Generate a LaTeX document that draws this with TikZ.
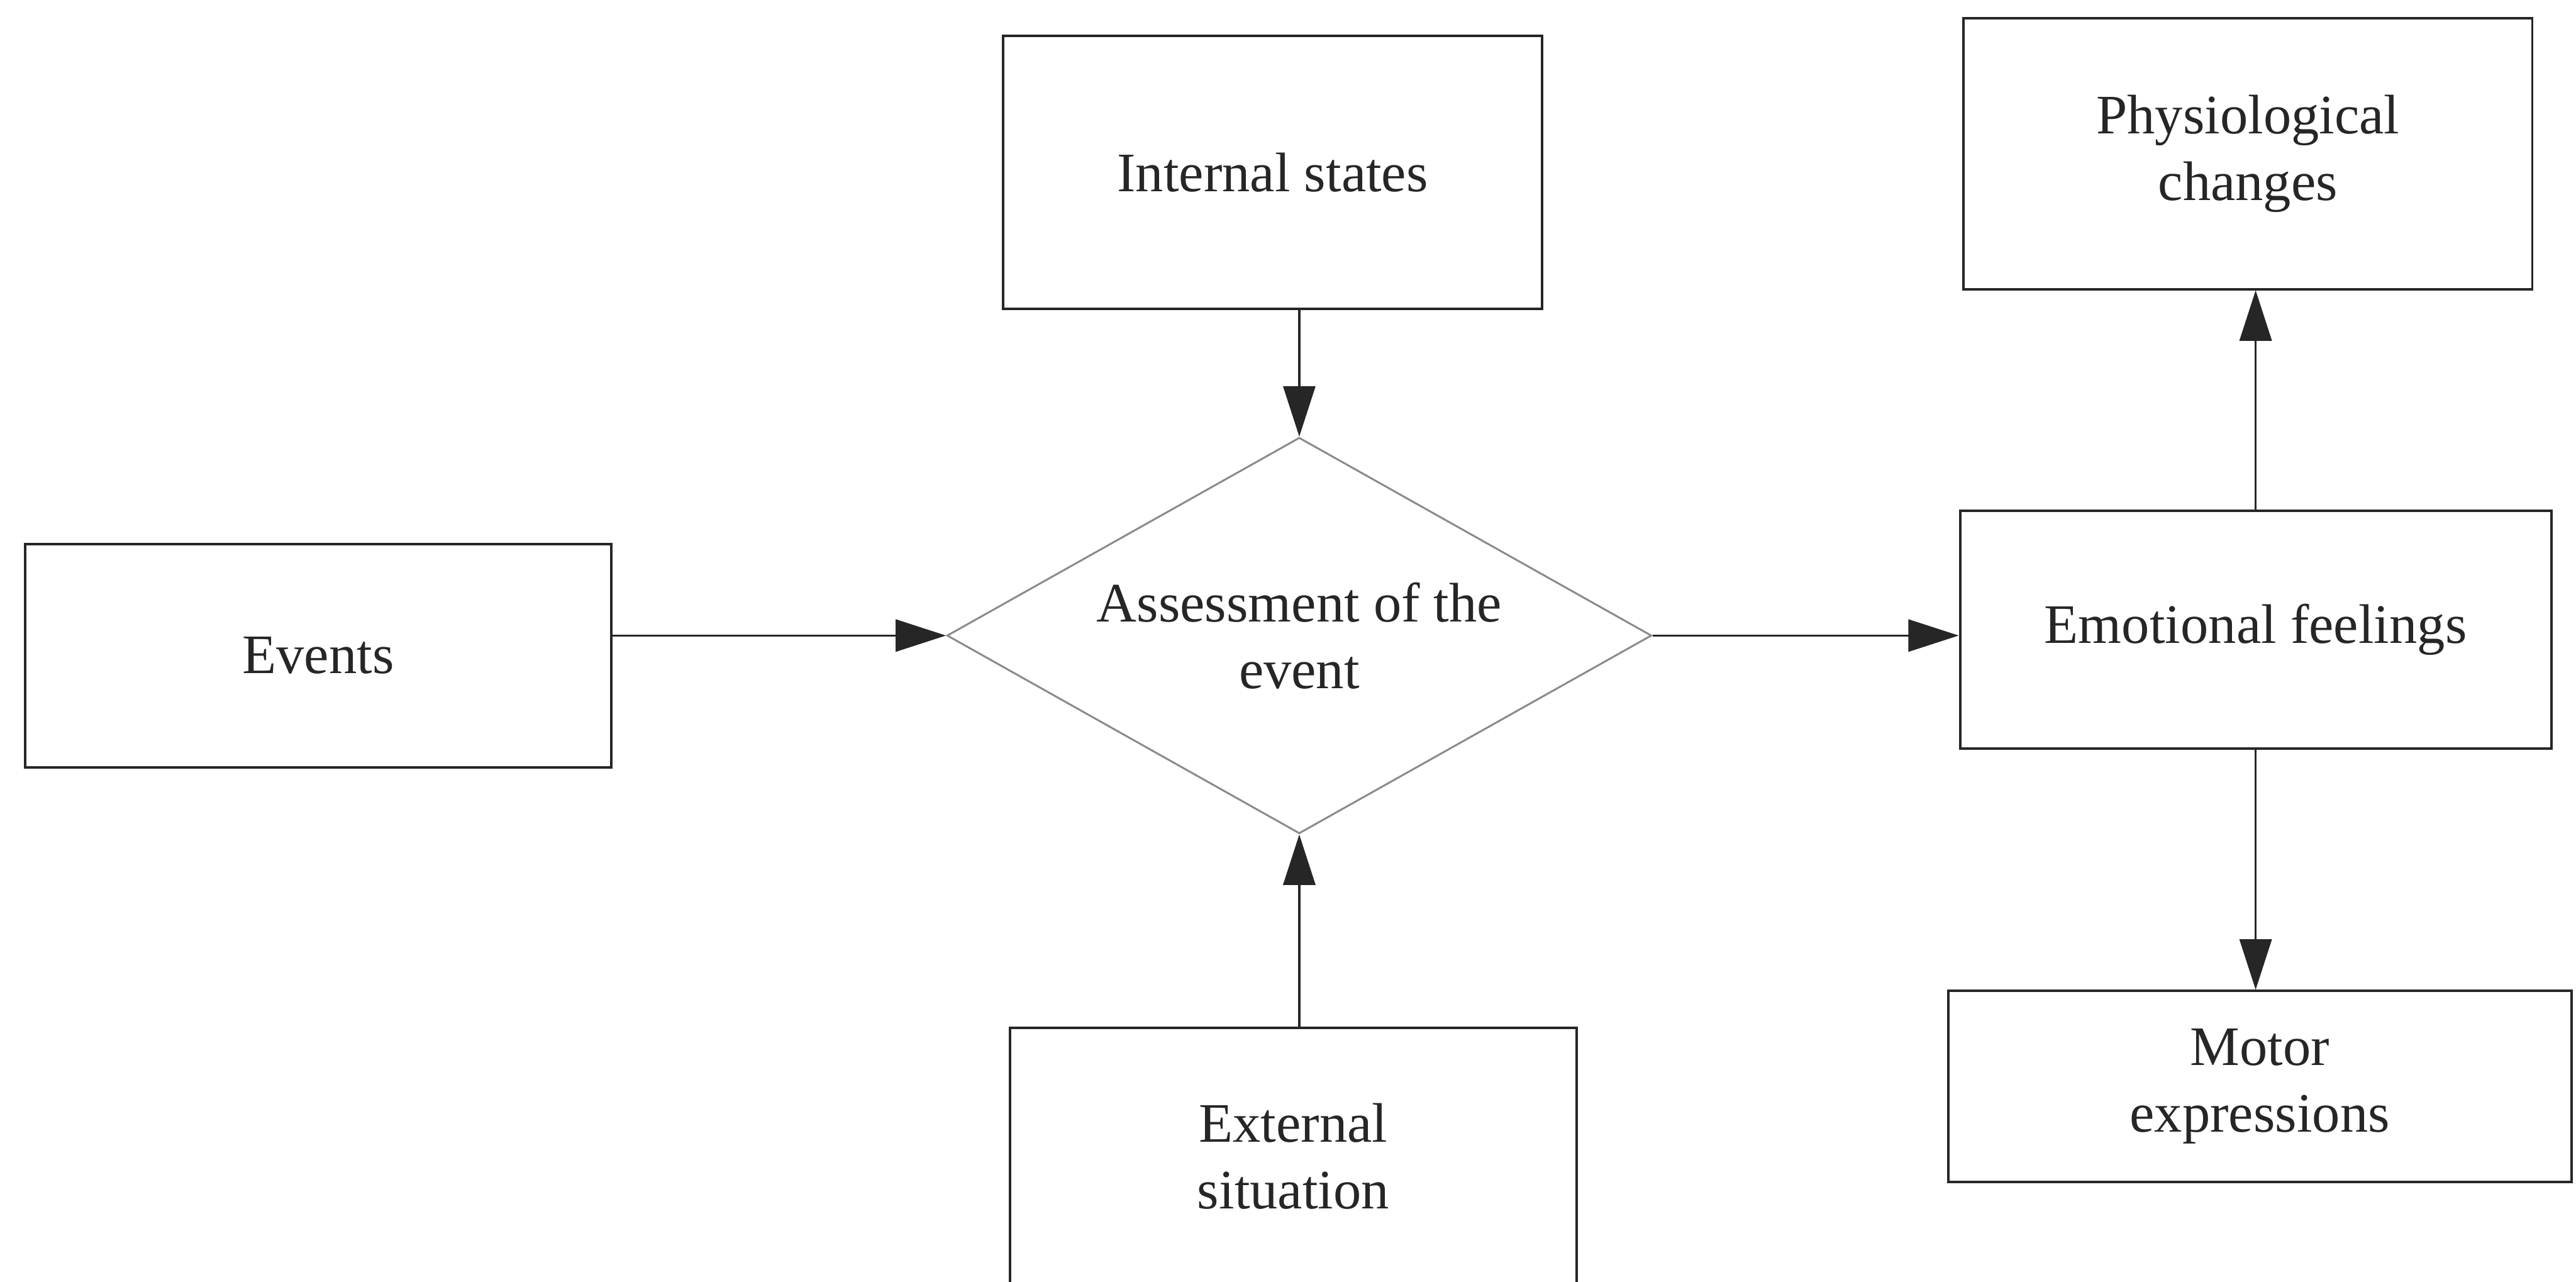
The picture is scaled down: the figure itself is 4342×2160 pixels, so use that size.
\documentclass[tikz,border=0pt]{standalone}
\usepackage{fontspec}
\setmainfont{Liberation Serif}
\usetikzlibrary{shapes.geometric,arrows.meta}
\definecolor{ink}{HTML}{262626}
\definecolor{rim}{HTML}{8A8A8A}
\begin{document}
\begin{tikzpicture}[x=0.01cm,y=-0.01cm,
  labeltext/.style={font=\fontsize{26.7pt}{31.9pt}\selectfont, text=ink, align=center},
  box/.style={rectangle, draw=ink, line width=1.2pt, inner sep=0pt, labeltext},
  decision/.style={diamond, aspect=1.78, draw=rim, line width=0.9pt, inner sep=0pt, labeltext},
  flow/.style={draw=ink, line width=1.1pt, -{Triangle[length=0.85cm,width=0.54cm]}}]
  % page
  \fill[white] (0,0) rectangle (4342,2160);
  \useasboundingbox (0,0) rectangle (4342,2160);
  \clip (0,0) rectangle (4342,2160);

  % boxes
  \node[box, minimum width=9.87cm, minimum height=3.76cm] (events) at (536.5,1105) {Events};
  \node[box, minimum width=9.08cm, minimum height=4.59cm] (internal) at (2145,290.5) {Internal states};
  \node[box, minimum width=9.54cm, minimum height=4.34cm] (external) at (2180,1949) {External\\situation};
  \node[decision, minimum width=11.87cm, minimum height=6.67cm] (assess) at (2190,1071) {Assessment of the\\event};
  \node[box, minimum width=9.58cm, minimum height=4.56cm] (physio) at (3789,259) {Physiological\\changes};
  \node[box, minimum width=9.96cm, minimum height=4.00cm] (feel) at (3802,1061) {Emotional feelings};
  \node[box, minimum width=10.50cm, minimum height=3.22cm] (motor) at (3809,1831) {Motor\\expressions};

  % connectors
  \draw[flow] (events.east |- assess.west) -- (assess.west);
  \draw[flow] (assess.north |- internal.south) -- (assess.north);
  \draw[flow] (assess.south |- external.north) -- (assess.south);
  \draw[flow] (assess.east) -- (assess.east -| feel.west);
  \draw[flow] (feel.north) -- (feel.north |- physio.south);
  \draw[flow] (feel.south) -- (feel.south |- motor.north);
\end{tikzpicture}
\end{document}
